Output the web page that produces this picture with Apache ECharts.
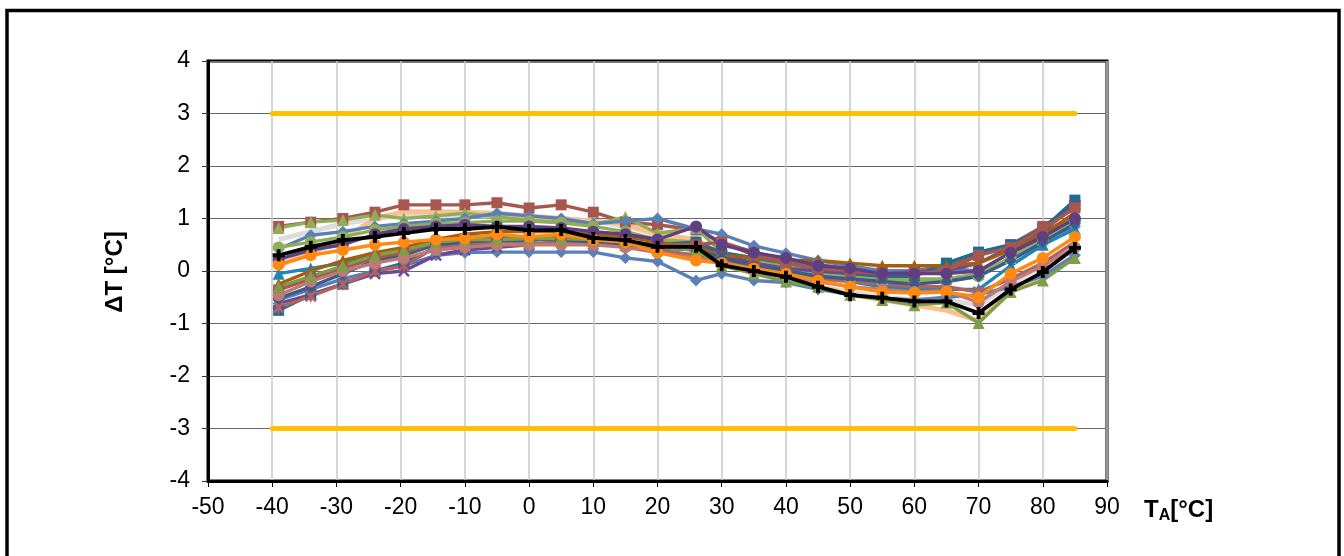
<!DOCTYPE html>
<html>
<head>
<meta charset="utf-8">
<script src="https://cdn.jsdelivr.net/npm/echarts@6/dist/echarts.min.js"></script>
<style>
html,body{margin:0;padding:0;background:#fff;}
#c{width:1344px;height:556px;}
</style>
</head>
<body>
<div id="c"></div>
<script>
// x positions (T_A, °C)
const temps = [-39,-34,-29,-24,-19.5,-14.5,-10,-5,0,5,10,15,20,26,30,35,40,45,50,55,60,65,70,75,80,85];
const xTicks = [-50,-40,-30,-20,-10,0,10,20,30,40,50,60,70,80,90];
const yTicks = [-4,-3,-2,-1,0,1,2,3,4];
const limitUpper = 3;
const limitLower = -3;
const limitRange = [-40, 85];

// device curves (ΔT, °C)
const devBlueLow   = [-0.55,-0.35,-0.15,0.00,0.10,0.30,0.35,0.36,0.36,0.36,0.36,0.25,0.18,-0.18,-0.05,-0.18,-0.22,-0.35,-0.45,-0.52,-0.55,-0.50,-0.45,-0.30,-0.10,0.30];
const devRedTop    = [0.85,0.93,1.00,1.12,1.26,1.26,1.26,1.30,1.20,1.26,1.12,0.93,0.88,0.78,0.55,0.36,0.21,0.12,0.05,0.00,0.00,0.10,0.30,0.50,0.85,1.25];
const devGreenTop  = [0.82,0.93,0.97,1.07,1.00,1.05,1.10,1.03,0.97,0.93,0.88,1.03,0.72,0.82,0.35,0.20,0.08,-0.05,-0.10,-0.15,-0.15,-0.15,-0.05,0.25,0.60,1.05];
const devBlueUp    = [0.42,0.68,0.75,0.85,0.90,0.95,1.00,1.10,1.05,1.00,0.90,0.95,1.00,0.80,0.70,0.48,0.34,0.20,0.10,0.00,0.00,0.05,0.00,0.35,0.60,0.85];
const devGreenCirc = [0.45,0.55,0.65,0.78,0.85,0.90,0.92,0.95,0.95,0.92,0.85,0.75,0.60,0.55,0.35,0.25,0.10,0.00,-0.10,-0.15,-0.20,-0.20,-0.10,0.25,0.60,0.95];
const devPeach     = [0.10,0.35,0.60,1.00,1.13,1.13,1.12,1.10,1.05,1.00,0.95,0.90,0.70,0.60,0.30,0.10,-0.10,-0.28,-0.45,-0.55,-0.65,-0.75,-0.95,-0.40,-0.10,0.30];
const devGray      = [0.60,0.75,0.90,1.00,1.05,1.05,1.05,1.05,1.00,1.00,0.95,0.85,0.70,0.60,0.20,0.00,-0.15,-0.30,-0.40,-0.50,-0.55,-0.55,-0.65,-0.25,0.10,0.55];
const devTeal      = [-0.05,0.05,0.15,0.35,0.40,0.60,0.65,0.65,0.65,0.65,0.60,0.55,0.45,0.40,0.30,0.15,0.00,-0.10,-0.20,-0.30,-0.35,-0.35,-0.35,0.10,0.50,0.80];
const devTealSq    = [-0.75,-0.45,-0.25,0.00,0.15,0.45,0.50,0.55,0.58,0.65,0.60,0.55,0.50,0.55,0.35,0.25,0.15,0.05,-0.05,-0.10,-0.10,0.15,0.36,0.50,0.80,1.35];
const devPurpleX   = [-0.62,-0.45,-0.25,-0.05,0.00,0.30,0.40,0.45,0.50,0.55,0.55,0.55,0.50,0.50,0.30,0.15,0.05,0.00,-0.05,-0.05,-0.02,0.00,0.15,0.45,0.75,1.26];
const devRedStar   = [-0.70,-0.48,-0.25,0.00,0.10,0.45,0.50,0.52,0.52,0.55,0.50,0.48,0.40,0.30,0.20,0.05,-0.05,-0.15,-0.20,-0.25,-0.30,-0.30,-0.40,-0.15,0.15,0.55];
const devBrownTri  = [-0.25,0.00,0.20,0.35,0.45,0.60,0.70,0.75,0.75,0.75,0.70,0.65,0.55,0.45,0.30,0.25,0.20,0.20,0.15,0.10,0.10,0.10,0.15,0.40,0.70,1.10];
const devNavy      = [-0.52,-0.30,-0.05,0.20,0.30,0.50,0.55,0.60,0.60,0.60,0.55,0.50,0.45,0.40,0.25,0.10,0.00,-0.10,-0.15,-0.20,-0.25,-0.20,-0.10,0.20,0.55,0.90];
const devRedSq     = [-0.36,-0.15,0.05,0.25,0.35,0.55,0.60,0.60,0.62,0.65,0.60,0.55,0.50,0.50,0.55,0.30,0.15,0.05,0.00,-0.05,-0.05,0.00,0.30,0.45,0.80,1.20];
const devPink      = [-0.46,-0.20,0.00,0.15,0.25,0.40,0.45,0.50,0.50,0.50,0.50,0.45,0.35,0.25,0.15,0.00,-0.10,-0.20,-0.30,-0.35,-0.40,-0.38,-0.60,-0.20,0.10,0.45];
const devPurple    = [0.22,0.40,0.50,0.70,0.80,0.85,0.88,0.85,0.85,0.82,0.75,0.70,0.60,0.85,0.50,0.35,0.25,0.10,0.05,-0.05,-0.05,-0.05,0.00,0.35,0.65,1.00];
const devGreenLow  = [-0.30,-0.10,0.10,0.30,0.40,0.55,0.60,0.60,0.62,0.62,0.60,0.55,0.45,0.40,0.10,-0.05,-0.20,-0.30,-0.45,-0.55,-0.65,-0.60,-0.99,-0.40,-0.18,0.25];
const devOrange    = [0.12,0.30,0.40,0.50,0.55,0.60,0.62,0.70,0.65,0.70,0.60,0.55,0.35,0.20,0.15,0.05,-0.05,-0.18,-0.30,-0.40,-0.42,-0.40,-0.50,-0.05,0.25,0.65];
const devBlack     = [0.30,0.46,0.59,0.65,0.72,0.80,0.80,0.84,0.78,0.78,0.63,0.59,0.46,0.46,0.11,0.00,-0.11,-0.30,-0.46,-0.51,-0.58,-0.58,-0.80,-0.35,-0.02,0.44];

const SYM_X = 'path://M1.5,0L5,3.5L8.5,0L10,1.5L6.5,5L10,8.5L8.5,10L5,6.5L1.5,10L0,8.5L3.5,5L0,1.5Z';
const SYM_STAR = 'path://M1.5,0L4.3,2.8V0H5.7V2.8L8.5,0L10,1.5L6.5,5L10,8.5L8.5,10L5.7,7.2V10H4.3V7.2L1.5,10L0,8.5L3.5,5L0,1.5Z';
const SYM_PLUS = 'path://M3.4,0H6.6V3.4H10V6.6H6.6V10H3.4V6.6H0V3.4H3.4Z';

const curves = [
  {name:'d1',  v:devGray,      c:'#DCDCDC', s:'none',     w:5},
  {name:'d2',  v:devPeach,     c:'#FAC090', s:'none',     w:5},
  {name:'d3',  v:devBlueLow,   c:'#5B80B8', s:'diamond'},
  {name:'d4',  v:devRedTop,    c:'#A8574F', s:'rect'},
  {name:'d5',  v:devGreenTop,  c:'#8FAE57', s:'triangle'},
  {name:'d6',  v:devBlueUp,    c:'#5B80B8', s:'diamond'},
  {name:'d7',  v:devGreenCirc, c:'#8FAE57', s:'circle'},
  {name:'d8',  v:devTeal,      c:'#1F86B8', s:'triangle'},
  {name:'d9',  v:devTealSq,    c:'#1C6C93', s:'rect'},
  {name:'d10', v:devPurpleX,   c:'#6B4A93', s:SYM_X},
  {name:'d11', v:devRedStar,   c:'#B06360', s:SYM_STAR},
  {name:'d12', v:devBrownTri,  c:'#A55E0C', s:'triangle'},
  {name:'d13', v:devNavy,      c:'#3A5C8C', s:'diamond'},
  {name:'d14', v:devRedSq,     c:'#A8574F', s:'rect'},
  {name:'d15', v:devPink,      c:'#C07A76', s:'circle'},
  {name:'d16', v:devPurple,    c:'#5E3F82', s:'circle'},
  {name:'d17', v:devGreenLow,  c:'#7F9E48', s:'triangle'},
  {name:'d18', v:devOrange,    c:'#FF8A12', s:'circle', z:5},
  {name:'d19', v:devBlack,     c:'#000000', s:SYM_PLUS, z:6, w:3.8}
];

const series = [
  {type:'line', data:[[limitRange[0],limitUpper],[limitRange[1],limitUpper]], symbol:'none', silent:true,
   lineStyle:{color:'#FFC000', width:5, cap:'round'}, z:1},
  {type:'line', data:[[limitRange[0],limitLower],[limitRange[1],limitLower]], symbol:'none', silent:true,
   lineStyle:{color:'#FFC000', width:5, cap:'round'}, z:1}
];
curves.forEach(function(cv){
  series.push({
    type:'line', name:cv.name,
    data: temps.map(function(t,i){return [t, cv.v[i]];}),
    symbol: cv.s,
    symbolSize: cv.s === 'circle' ? 12 : (cv.s === 'rect' ? 11 : 12),
    showSymbol: cv.s !== 'none',
    lineStyle:{color:cv.c, width: cv.w || 3.4},
    itemStyle:{color:cv.c, borderWidth:0},
    z: cv.z || 2,
    animation:false
  });
});

const chart = echarts.init(document.getElementById('c'), null, {renderer:'canvas'});
chart.setOption({
  animation:false,
  backgroundColor:'#fff',
  grid:{left:208, top:61, width:899, height:420, show:true, borderColor:'#000', borderWidth:3, backgroundColor:'#fff'},
  xAxis:{
    type:'value', min:xTicks[0], max:xTicks[xTicks.length-1], interval:10,
    axisLine:{show:true, onZero:false, lineStyle:{color:'#000', width:3}},
    axisTick:{show:true, length:6, lineStyle:{color:'#000', width:1}},
    splitLine:{show:true, lineStyle:{color:'#C8C8C8', width:1.5}},
    axisLabel:{color:'#000', fontFamily:'Liberation Sans, Arial', fontSize:23, margin:15}
  },
  yAxis:{
    type:'value', min:yTicks[0], max:yTicks[yTicks.length-1], interval:1,
    axisLine:{show:true, onZero:false, lineStyle:{color:'#000', width:3}},
    axisTick:{show:true, length:6, lineStyle:{color:'#333', width:1}},
    splitLine:{show:true, lineStyle:{color:'#666', width:1}},
    axisLabel:{color:'#000', fontFamily:'Liberation Sans, Arial', fontSize:23, margin:18}
  },
  graphic:[
    {type:'rect', shape:{x:7, y:10.5, width:1332, height:600}, style:{fill:'none', stroke:'#000', lineWidth:3.5}, z:100, silent:true},
    {type:'text', x:115, y:272, rotation:Math.PI/2, z:100,
     style:{text:'ΔT [°C]', fill:'#000', font:'bold 24px "Liberation Sans", Arial', align:'center', verticalAlign:'middle'}},
    {type:'text', x:1144, y:510, z:100,
     style:{text:'{t|T}{s|A}{t|[°C]}', align:'left', verticalAlign:'middle',
       rich:{
         t:{fontFamily:'Liberation Sans, Arial', fontWeight:'bold', fontSize:24, fill:'#000', color:'#000'},
         s:{fontFamily:'Liberation Sans, Arial', fontWeight:'bold', fontSize:16, fill:'#000', color:'#000', padding:[12,0,0,0]}
       }}}
  ],
  series: series
});
</script>
</body>
</html>
